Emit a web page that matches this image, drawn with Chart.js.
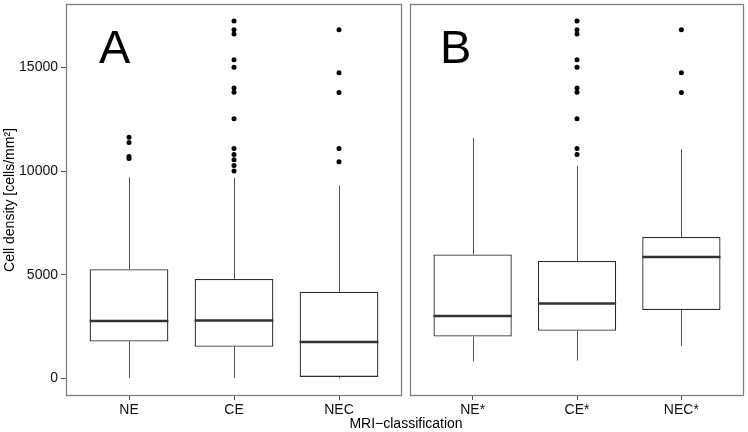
<!DOCTYPE html>
<html>
<head>
<meta charset="utf-8">
<script src="https://cdn.jsdelivr.net/npm/chart.js@4.4.1/dist/chart.umd.min.js"></script>
<style>
  body { margin: 0; background: #fff; }
  #wrap { position: relative; width: 748px; height: 432px; font-family: "Liberation Sans", Arial, sans-serif; }
  .pane { position: absolute; top: 0; height: 432px; }
  .tag { position: absolute; font-size: 47px; line-height: 1; color: #000; }
  #xtitle { position: absolute; left: 306px; width: 200px; top: 416px; text-align: center; font-size: 14px; line-height: 1; color: #000; }
</style>
</head>
<body>
<div id="wrap">
  <div class="pane" style="left:0;width:406px"><canvas id="chartA"></canvas></div>
  <div class="pane" style="left:406px;width:342px"><canvas id="chartB"></canvas></div>
  <div class="tag" style="left:99px;top:23px">A</div>
  <div class="tag" style="left:440px;top:23px">B</div>
  <div id="xtitle">MRI−classification</div>
</div>
<script>
// panel A: all cases
const catsA = ['NE', 'CE', 'NEC'];
const lowA  = [0, 0, 0];
const q1A   = [1775, 1520, 62];
const medA  = [2765, 2780, 1742];
const q3A   = [5260, 4795, 4171];
const highA = [9700, 9670, 9300];
const outA = [
  [11630, 11380, 10705, 10610],
  [17244, 16827, 16620, 15374, 15020, 14012, 13806, 12526, 11088, 10801, 10547, 10273, 10005],
  [16827, 14750, 13792, 11088, 10450]
];

// panel B: starred classes
const catsB = ['NE*', 'CE*', 'NEC*'];
const lowB  = [815, 847, 1550];
const q1B   = [2013, 2285, 3292];
const medB  = [3005, 3610, 5849];
const q3B   = [5977, 5657, 6823];
const highB = [11600, 10259, 11060];
const outB = [
  [],
  [17244, 16827, 16620, 15374, 15020, 14012, 13806, 12526, 11088, 10801],
  [16827, 14750, 13792]
];

const yTicks = [0, 5000, 10000, 15000];

// whiskers, medians and the panel frame
const boxParts = {
  id: 'boxParts',
  beforeDatasetsDraw(chart) {
    const ds = chart.data.datasets[0];
    const y = chart.scales.y;
    const ctx = chart.ctx;
    ctx.save();
    ctx.strokeStyle = '#555';
    ctx.lineWidth = 1;
    chart.getDatasetMeta(0).data.forEach((el, i) => {
      const x = Math.round(el.x) + 0.5;
      ctx.beginPath();
      ctx.moveTo(x, y.getPixelForValue(ds.high[i]));
      ctx.lineTo(x, y.getPixelForValue(ds.q3[i]));
      ctx.moveTo(x, y.getPixelForValue(ds.q1[i]));
      ctx.lineTo(x, y.getPixelForValue(ds.low[i]));
      ctx.stroke();
    });
    ctx.restore();
  },
  afterDatasetsDraw(chart) {
    const ds = chart.data.datasets[0];
    const y = chart.scales.y;
    const ctx = chart.ctx;
    ctx.save();
    ctx.strokeStyle = '#333';
    ctx.lineWidth = 2.5;
    chart.getDatasetMeta(0).data.forEach((el, i) => {
      const py = y.getPixelForValue(ds.med[i]);
      ctx.beginPath();
      ctx.moveTo(el.x - el.width / 2, py);
      ctx.lineTo(el.x + el.width / 2, py);
      ctx.stroke();
    });
    const a = chart.chartArea;
    ctx.strokeStyle = '#808080';
    ctx.lineWidth = 1.3;
    ctx.strokeRect(a.left + 0.5, a.top + 0.5, a.right - a.left - 1, a.bottom - a.top - 1);
    ctx.restore();
  }
};

function makePanel(id, cats, low, q1, med, q3, high, outs, showY) {
  const boxes = cats.map((c, i) => ({ x: i + 1, y: [q1[i], q3[i]] }));
  const points = [];
  outs.forEach((list, i) => list.forEach(v => points.push({ x: i + 1, y: v })));

  return new Chart(document.getElementById(id), {
    type: 'bar',
    data: {
      datasets: [{
        data: boxes,
        low, q1, med, q3, high,
        backgroundColor: '#fff',
        borderColor: '#2b2b2b',
        borderWidth: 1.3,
        borderSkipped: false,
        barPercentage: 0.75,
        categoryPercentage: 1
      }, {
        type: 'scatter',
        data: points,
        pointRadius: 2.5,
        pointBackgroundColor: '#000',
        pointBorderWidth: 0
      }]
    },
    options: {
      responsive: true,
      maintainAspectRatio: false,
      animation: false,
      events: [],
      layout: { padding: showY ? { top: 2, right: 3, left: 0, bottom: 0 } : { top: 2, right: 2, left: 2, bottom: 0 } },
      plugins: { legend: { display: false }, tooltip: { enabled: false } },
      scales: {
        x: {
          type: 'linear',
          min: 0.4,
          max: 3.6,
          offset: false,
          afterBuildTicks: s => { s.ticks = cats.map((c, i) => ({ value: i + 1 })); },
          afterFit: s => { s.height = 36; s.paddingLeft = 0; s.paddingRight = 0; },
          ticks: {
            callback: v => cats[v - 1],
            font: { family: 'Liberation Sans', size: 14 },
            color: '#111',
            padding: 2,
            maxRotation: 0
          },
          grid: { drawOnChartArea: false, offset: false, tickLength: 4, color: '#555' },
          border: { display: false }
        },
        y: {
          display: showY,
          min: -860,
          max: 18070,
          afterBuildTicks: s => { s.ticks = yTicks.map(v => ({ value: v })); },
          afterFit: s => {
            s.width = showY ? 66 : 0;
            s.paddingTop = 0;
            s.paddingBottom = 0;
          },
          ticks: {
            callback: v => String(v),
            font: { family: 'Liberation Sans', size: 14 },
            color: '#111',
            padding: 3
          },
          grid: { drawOnChartArea: false, tickLength: 5, color: '#555' },
          border: { display: false },
          title: {
            display: true,
            text: 'Cell density [cells/mm²]',
            font: { family: 'Liberation Sans', size: 14 },
            color: '#000',
            padding: { top: 2, bottom: 0 }
          }
        }
      }
    },
    plugins: [boxParts]
  });
}

makePanel('chartA', catsA, lowA, q1A, medA, q3A, highA, outA, true);
makePanel('chartB', catsB, lowB, q1B, medB, q3B, highB, outB, false);
</script>
</body>
</html>
